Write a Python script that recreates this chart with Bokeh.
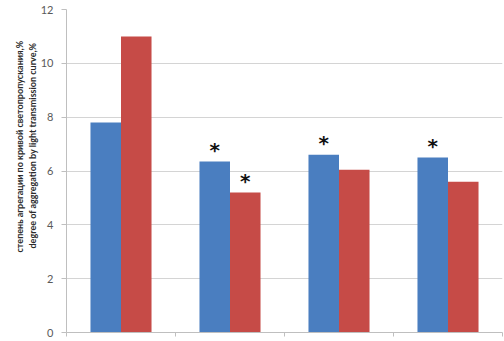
import numpy as np
from bokeh.plotting import figure
from bokeh.models import ColumnDataSource, FixedTicker, Title, Range1d
from bokeh.core.properties import value
from bokeh.embed import file_html
from bokeh.resources import INLINE

groups = ["1", "2", "3", "4"]
series_blue = [7.8, 6.35, 6.6, 6.5]
series_red = [11.0, 5.2, 6.05, 5.6]
marks_blue = ["", "*", "*", "*"]
marks_red = ["", "*", "", ""]
y_ticks = [0, 2, 4, 6, 8, 10, 12]
ylabel_ru = "степень агрегации по кривой светопропускания,%"
ylabel_en = "degree of aggregation by light transmission curve,%"

BLUE = "#4A7EC0"
RED = "#C64B47"
bw = 0.28

idx = np.arange(len(groups)) + 0.5
src = ColumnDataSource(dict(xb=idx - bw / 2, xr=idx + bw / 2, b=series_blue, r=series_red))

star_x, star_y, star_t = [], [], []
for i in range(len(groups)):
    if marks_blue[i]:
        star_x.append(idx[i] - bw / 2); star_y.append(series_blue[i]); star_t.append(marks_blue[i])
    if marks_red[i]:
        star_x.append(idx[i] + bw / 2); star_y.append(series_red[i]); star_t.append(marks_red[i])
star_src = ColumnDataSource(dict(x=star_x, y=star_y, t=star_t))

p = figure(width=504, height=341, output_backend="svg", toolbar_location=None,
           x_range=Range1d(0, len(groups)), y_range=Range1d(0, 12),
           min_border_left=66, min_border_right=2, min_border_top=9, min_border_bottom=9)
p.outline_line_color = None
p.background_fill_color = "white"

p.vbar(x="xb", top="b", width=bw, source=src, fill_color=BLUE, line_color=None)
p.vbar(x="xr", top="r", width=bw, source=src, fill_color=RED, line_color=None)

p.text(x="x", y="y", text="t", source=star_src, text_align="center", text_baseline="alphabetic",
       y_offset=-12, text_font=value("DejaVu Sans"), text_font_size="20px",
       text_font_style="bold", text_color="#111111")

p.xgrid.visible = False
p.ygrid.ticker = FixedTicker(ticks=y_ticks)
p.ygrid.grid_line_color = "#D4D4D4"

xa = p.xaxis[0]
xa.ticker = FixedTicker(ticks=list(range(len(groups) + 1)))
xa.major_label_overrides = {i: " " for i in range(len(groups) + 1)}
xa.major_label_text_font_size = "1px"
xa.major_label_standoff = 0
xa.major_tick_in = 0
xa.major_tick_out = 4
xa.minor_tick_line_color = None
xa.axis_line_color = "#BFBFBF"
xa.major_tick_line_color = "#BFBFBF"

ya = p.yaxis[0]
ya.ticker = FixedTicker(ticks=y_ticks)
ya.major_label_text_font = "Lato"
ya.major_label_text_font_size = "11px"
ya.major_label_text_color = "#595959"
ya.major_tick_in = 0
ya.major_tick_out = 5
ya.major_label_standoff = 8
ya.minor_tick_line_color = None
ya.axis_line_color = "#BFBFBF"
ya.major_tick_line_color = "#BFBFBF"

p.add_layout(Title(text=ylabel_en, align="left", text_font="Lato", text_font_size="9px",
                   text_font_style="bold", text_color="#2b2b2b", standoff=0, offset=84), "left")
p.add_layout(Title(text=ylabel_ru, align="left", text_font="Lato", text_font_size="9px",
                   text_font_style="bold", text_color="#2b2b2b", standoff=0, offset=80), "left")
# empty spacer at the outer edge
p.add_layout(Title(text=" ", text_font_size="6px", standoff=0), "left")

open("out.html", "w").write(file_html(p, INLINE))
